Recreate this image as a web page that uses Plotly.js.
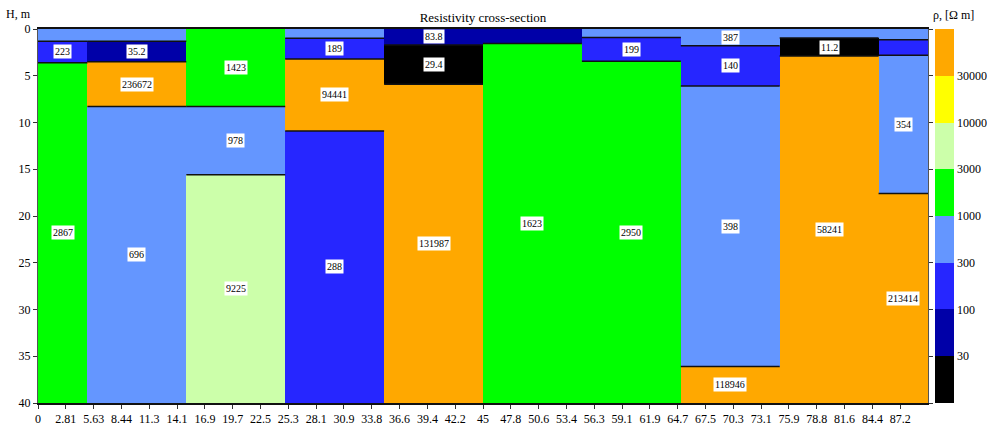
<!DOCTYPE html>
<html>
<head>
<meta charset="utf-8">
<script src="https://cdn.plot.ly/plotly-3.0.1.min.js"></script>
<style>html,body{margin:0;padding:0;background:#fff;}#chart{width:987px;height:431px;}</style>
</head>
<body>
<div id="chart"></div>
<script>
// Column (sounding) extents along the profile, m
const colLeft  = [0, 5, 15, 25, 35, 45, 55, 65, 75, 85];
const colRight = [5, 15, 25, 35, 45, 55, 65, 75, 85, 90];

// Layers: column index, top / bottom depth (m), resistivity label (null = not printed), colour class
const layerColumn = [0,0,0, 1,1,1,1, 2,2,2, 3,3,3,3, 4,4,4, 5,5, 6,6,6, 7,7,7,7, 8,8,8, 9,9,9,9];
const layerTop    = [0,1.3,3.6, 0,1.3,3.5,8.3, 0,8.3,15.6, 0,1.0,3.2,10.9, 0,1.7,5.9, 0,1.55, 0,0.9,3.45, 0,1.8,6.1,36.1, 0,0.95,2.9, 0,1.15,2.8,17.6];
const layerBottom = [1.3,3.6,40, 1.3,3.5,8.3,40, 8.3,15.6,40, 1.0,3.2,10.9,40, 1.7,5.9,40, 1.55,40, 0.9,3.45,40, 1.8,6.1,36.1,40, 0.95,2.9,40, 1.15,2.8,17.6,40];
const layerRho    = [null,223,2867, null,35.2,236672,696, 1423,978,9225, null,189,94441,288, 83.8,29.4,131987, null,1623, null,199,2950, 387,140,398,118946, null,11.2,58241, null,null,354,213414];
const layerClass  = [3,2,4, 3,1,7,3, 4,3,5, 3,2,7,2, 1,0,7, 1,4, 3,2,4, 3,2,3,7, 3,0,7, 3,2,3,7];

// Colour classes (legend)
const classColors = ['#000000','#0000A8','#2626FF','#6496FF','#00FF00','#CCFFAA','#FFFF00','#FFA800'];
const classBreaks = ['30','100','300','1000','3000','10000','30000'];

// Axis ticks
const xTickLabels = ['0','2.81','5.63','8.44','11.3','14.1','16.9','19.7','22.5','25.3','28.1','30.9','33.8','36.6','39.4','42.2','45','47.8','50.6','53.4','56.3','59.1','61.9','64.7','67.5','70.3','73.1','75.9','78.8','81.6','84.4','87.2'];
const xTickStep = 2.8125;
const yTicks = [0,5,10,15,20,25,30,35,40];

// ---- build traces ----
const n = layerColumn.length;
const bx = [], bw = [], bbase = [], bh = [], bc = [];
for (let i = 0; i < n; i++) {
  const c = layerColumn[i];
  bx.push((colLeft[c] + colRight[c]) / 2);
  bw.push(colRight[c] - colLeft[c]);
  bbase.push(layerTop[i]);
  bh.push(layerBottom[i] - layerTop[i]);
  bc.push(layerClass[i] + 0.5);
}
const nc = classColors.length;
const cs = [];
classColors.forEach((col, k) => { cs.push([k / nc, col]); cs.push([(k + 1) / nc, col]); });

const bars = {
  type: 'bar', x: bx, y: bh, base: bbase, width: bw,
  marker: {
    color: bc, colorscale: cs, cmin: 0, cmax: nc, showscale: true,
    line: {width: 0},
    colorbar: {
      x: 1.0079, xanchor: 'left', xpad: 0, ypad: 0,
      y: 0, yanchor: 'bottom', len: 1, lenmode: 'fraction',
      thickness: 19, outlinewidth: 0, ticks: '',
      tickmode: 'array', tickvals: classBreaks.map((_, k) => k + 1), ticktext: classBreaks,
      tickfont: {family: 'Liberation Serif', size: 12, color: '#000'},
      title: {text: ''}
    }
  },
  hoverinfo: 'skip', showlegend: false
};

const lx = [], ly = [];
for (let i = 0; i < n; i++) {
  if (layerBottom[i] >= 40) continue;
  const c = layerColumn[i];
  lx.push(colLeft[c], colRight[c], null);
  ly.push(layerBottom[i], layerBottom[i], null);
}
const lines = {type: 'scatter', mode: 'lines', x: lx, y: ly, line: {color: '#111', width: 1.5}, hoverinfo: 'skip', showlegend: false};

const annotations = [];
for (let i = 0; i < n; i++) {
  if (layerRho[i] === null) continue;
  const c = layerColumn[i];
  annotations.push({
    x: (colLeft[c] + colRight[c]) / 2, y: (layerTop[i] + layerBottom[i]) / 2,
    xref: 'x', yref: 'y', text: String(layerRho[i]), showarrow: false,
    bgcolor: '#fff', borderpad: 1,
    font: {family: 'Liberation Serif', size: 10, color: '#000'}
  });
}
annotations.push({
  xref: 'paper', yref: 'paper', x: 0, y: 1, xanchor: 'right', yanchor: 'middle',
  xshift: -5, yshift: 15, text: 'H, m', showarrow: false,
  font: {family: 'Liberation Serif', size: 12, color: '#000'}
});
annotations.push({
  xref: 'paper', yref: 'paper', x: 1.003, y: 1, xanchor: 'left', yanchor: 'middle',
  yshift: 14, text: 'ρ, [Ω m]', showarrow: false,
  font: {family: 'Liberation Serif', size: 12, color: '#000'}
});

const layout = {
  width: 987, height: 431,
  margin: {l: 38, r: 59, t: 29, b: 28, pad: 0, autoexpand: false},
  paper_bgcolor: '#fff', plot_bgcolor: '#fff',
  bargap: 0,
  title: {text: 'Resistivity cross-section', x: 0.5, xref: 'paper', y: 1 - 17 / 431, yanchor: 'middle',
          font: {family: 'Liberation Serif', size: 13, color: '#000'}},
  xaxis: {
    range: [0, 90], tickmode: 'array', tickvals: xTickLabels.map((_, k) => k * xTickStep), ticktext: xTickLabels,
    ticks: 'outside', ticklen: 4, tickcolor: '#333', showgrid: false, zeroline: false,
    showline: true, mirror: true, linecolor: '#111', linewidth: 2,
    tickfont: {family: 'Liberation Serif', size: 12, color: '#000'}
  },
  yaxis: {
    range: [40, 0], tickmode: 'array', tickvals: yTicks, ticktext: yTicks.map(String),
    ticks: 'outside', ticklen: 4, tickcolor: '#333', showgrid: false, zeroline: false,
    showline: true, mirror: 'ticks', linecolor: '#555', linewidth: 1,
    tickfont: {family: 'Liberation Serif', size: 12, color: '#000'}
  },
  annotations: annotations,
  showlegend: false
};

Plotly.newPlot('chart', [bars, lines], layout, {displayModeBar: false, staticPlot: true});
</script>
</body>
</html>
